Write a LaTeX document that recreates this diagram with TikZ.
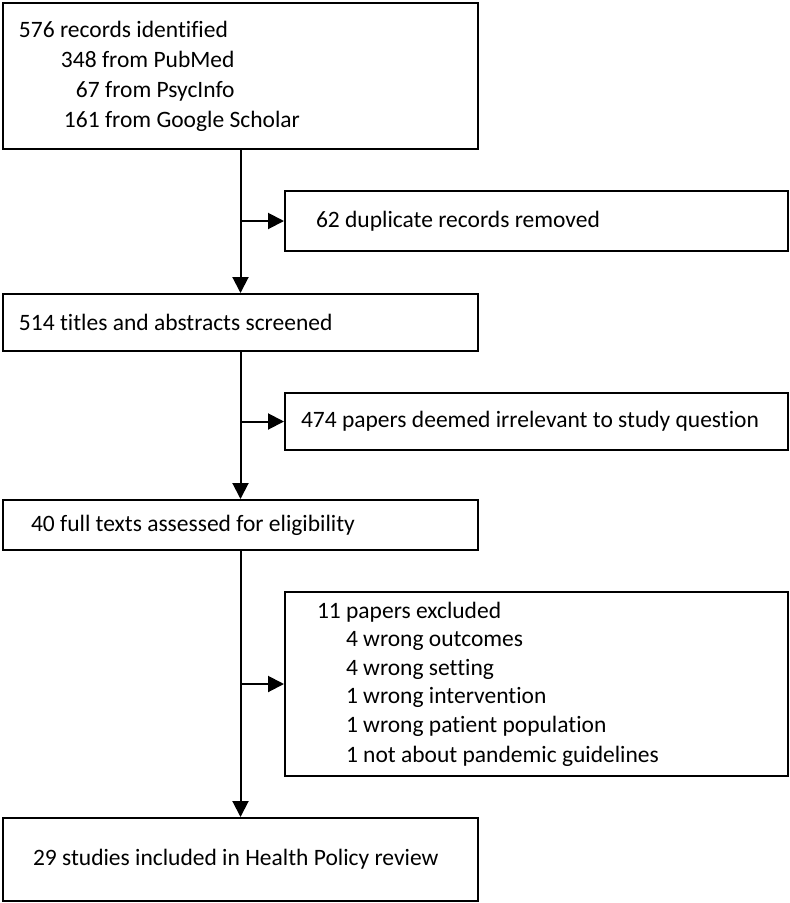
\documentclass[tikz,border=0pt]{standalone}
\usepackage{fontspec}
\setmainfont[Ligatures=NoCommon]{Carlito}
\usepackage{tikz}
\usetikzlibrary{arrows.meta}

\begin{document}
\begin{tikzpicture}[x=1pt, y=-1pt, line width=2pt,
  every node/.style={font=\fontsize{23.5}{30}\selectfont},
  box/.style={draw, rectangle, anchor=north west, align=flush left, inner ysep=0pt},
  arr/.style={-{Triangle[length=16pt, width=16pt]}}]
  \useasboundingbox (0,0) rectangle (790,903);

  % main column
  \node[box, minimum width=475pt, minimum height=146pt, inner xsep=16pt, text width=443pt] (ident) at (2,2)
    {576 records identified\\
     \hspace*{42pt}348 from PubMed\\
     \hspace*{57pt}67 from PsycInfo\\
     \hspace*{45pt}161 from Google Scholar};
  \node[box, minimum width=475pt, minimum height=57pt, inner xsep=16pt, text width=443pt] (screen) at (2,293)
    {514 titles and abstracts screened};
  \node[box, minimum width=475pt, minimum height=50pt, inner xsep=28pt, text width=419pt] (full) at (2,499)
    {40 full texts assessed for eligibility};
  \node[box, minimum width=475pt, minimum height=83pt, inner xsep=30pt, text width=415pt] (incl) at (2,817)
    {29 studies included in Health Policy review};

  % side boxes
  \node[box, minimum width=503pt, minimum height=60pt, inner xsep=31pt, text width=441pt] (dup) at (284,190)
    {62 duplicate records removed};
  \node[box, minimum width=503pt, minimum height=57pt, inner xsep=16pt, text width=471pt] (irrel) at (284,392)
    {474 papers deemed irrelevant to study question};
  \node[box, minimum width=503pt, minimum height=184pt, inner xsep=32pt, text width=439pt] (excl) at (284,591)
    {\fontsize{23.5}{28.5}\selectfont
     11 papers excluded\\
     \hspace*{29pt}4 wrong outcomes\\
     \hspace*{29pt}4 wrong setting\\
     \hspace*{29pt}1 wrong intervention\\
     \hspace*{29pt}1 wrong patient population\\
     \hspace*{29pt}1 not about pandemic guidelines};

  % flow arrows
  \draw[arr] (ident.south) -- (screen.north);
  \draw[arr] (screen.south) -- (full.north);
  \draw[arr] (full.south) -- (incl.north);
  \draw[arr] (dup.west -| ident.south) -- (dup.west);
  \draw[arr] (irrel.west -| ident.south) -- (irrel.west);
  \draw[arr] (excl.west -| ident.south) -- (excl.west);
\end{tikzpicture}
\end{document}
